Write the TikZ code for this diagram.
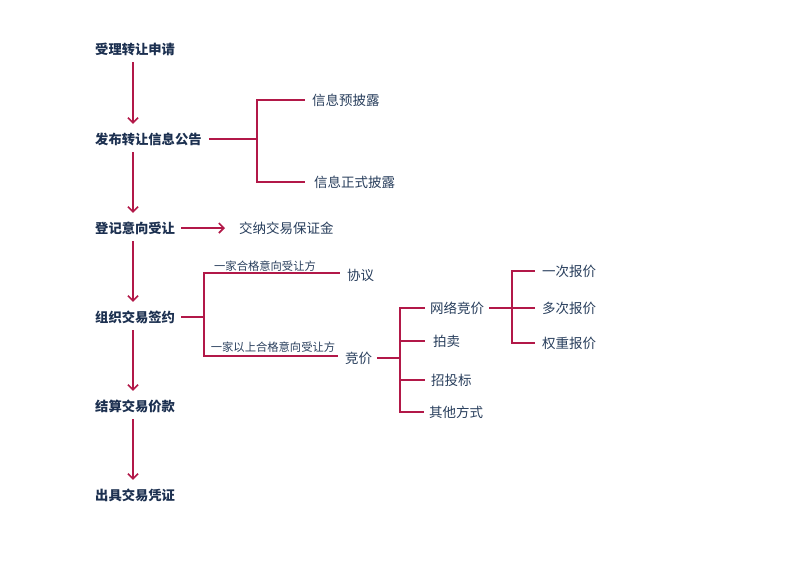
\documentclass[tikz,border=0pt]{standalone}
\usepackage{fontspec}
\newfontfamily\cjk{Noto Sans CJK SC}
\usetikzlibrary{arrows.meta}
\definecolor{linec}{RGB}{178,24,72}
\definecolor{navy}{RGB}{28,48,80}
\definecolor{navyl}{RGB}{40,62,92}
\begin{document}
\begin{tikzpicture}[x=1pt,y=-1pt,
  mainbox/.style={font=\cjk\bfseries\fontsize{13.3}{16}\selectfont, text=navy, anchor=west, inner sep=0pt, minimum height=26pt},
  subbox/.style={font=\cjk\fontsize{13.5}{16}\selectfont, text=navyl, anchor=west, inner sep=0pt},
  lblbox/.style={font=\cjk\fontsize{11.3}{13}\selectfont, text=navyl, inner sep=0pt},
  conn/.style={draw=linec, line width=1.8pt},
  arr/.style={conn, -{Straight Barb[length=5pt,width=10pt,line width=1.6pt]}},
]
\useasboundingbox (0,0) rectangle (800,566);
\coordinate (col) at (133,0);

% main column
\node[mainbox] (n1) at (95,49) {受理转让申请};
\node[mainbox] (n2) at (95,139) {发布转让信息公告};
\node[mainbox] (n3) at (95,228) {登记意向受让};
\node[mainbox] (n4) at (95,317) {组织交易签约};
\node[mainbox] (n5) at (95,406) {结算交易价款};
\node[mainbox] (n6) at (95,495) {出具交易凭证};

\draw[arr, shorten >=2pt] (n1.south -| col) -- (n2.north -| col);
\draw[arr, shorten >=2pt] (n2.south -| col) -- (n3.north -| col);
\draw[arr, shorten >=2pt] (n3.south -| col) -- (n4.north -| col);
\draw[arr, shorten >=2pt] (n4.south -| col) -- (n5.north -| col);
\draw[arr, shorten >=2pt] (n5.south -| col) -- (n6.north -| col);

% disclosure branch
\node[subbox] (p1) at (312,100) {信息预披露};
\node[subbox] (p2) at (314,182) {信息正式披露};
\coordinate (j1) at (257,139);
\draw[conn] ([xshift=7pt]n2.east) -- (j1);
\draw[conn] (j1) |- ([xshift=-7pt]p1.west);
\draw[conn] (j1) |- ([xshift=-9pt]p2.west);

% deposit
\node[subbox] (d1) at (239,228) {交纳交易保证金};
\draw[arr, shorten >=14pt] ([xshift=6pt]n3.east) -- (d1.west);

% signing branch
\node[subbox] (x1) at (347,275) {协议};
\node[subbox] (x2) at (345,358) {竞价};
\coordinate (j2) at (204,317);
\draw[conn] ([xshift=6pt]n4.east) -- (j2);
\draw[conn] (j2) |- ([xshift=-7pt,yshift=2pt]x1.west);
\draw[conn] (j2) |- ([xshift=-7pt,yshift=2pt]x2.west);
\node[lblbox] (l1) at (265,266) {一家合格意向受让方};
\node[lblbox] (l2) at (273,347) {一家以上合格意向受让方};

% bidding branch
\node[subbox] (b1) at (430,308) {网络竞价};
\node[subbox] (b2) at (433,341) {拍卖};
\node[subbox] (b3) at (431,380) {招投标};
\node[subbox] (b4) at (429,412) {其他方式};
\coordinate (j3) at (400,358);
\draw[conn] ([xshift=5pt]x2.east) -- (j3);
\draw[conn] (j3) |- ([xshift=-5pt]b1.west);
\draw[conn] (j3) |- ([xshift=-8pt]b2.west);
\draw[conn] (j3) |- ([xshift=-6pt]b3.west);
\draw[conn] (j3) |- ([xshift=-5pt]b4.west);

% online bidding branch
\node[subbox] (q1) at (542,271) {一次报价};
\node[subbox] (q2) at (542,308) {多次报价};
\node[subbox] (q3) at (542,343) {权重报价};
\coordinate (j4) at (512,308);
\draw[conn] ([xshift=5pt]b1.east) -- (j4);
\draw[conn] (j4) |- ([xshift=-7pt]q1.west);
\draw[conn] (j4) -- ([xshift=-7pt]q2.west);
\draw[conn] (j4) |- ([xshift=-7pt]q3.west);
\end{tikzpicture}
\end{document}
